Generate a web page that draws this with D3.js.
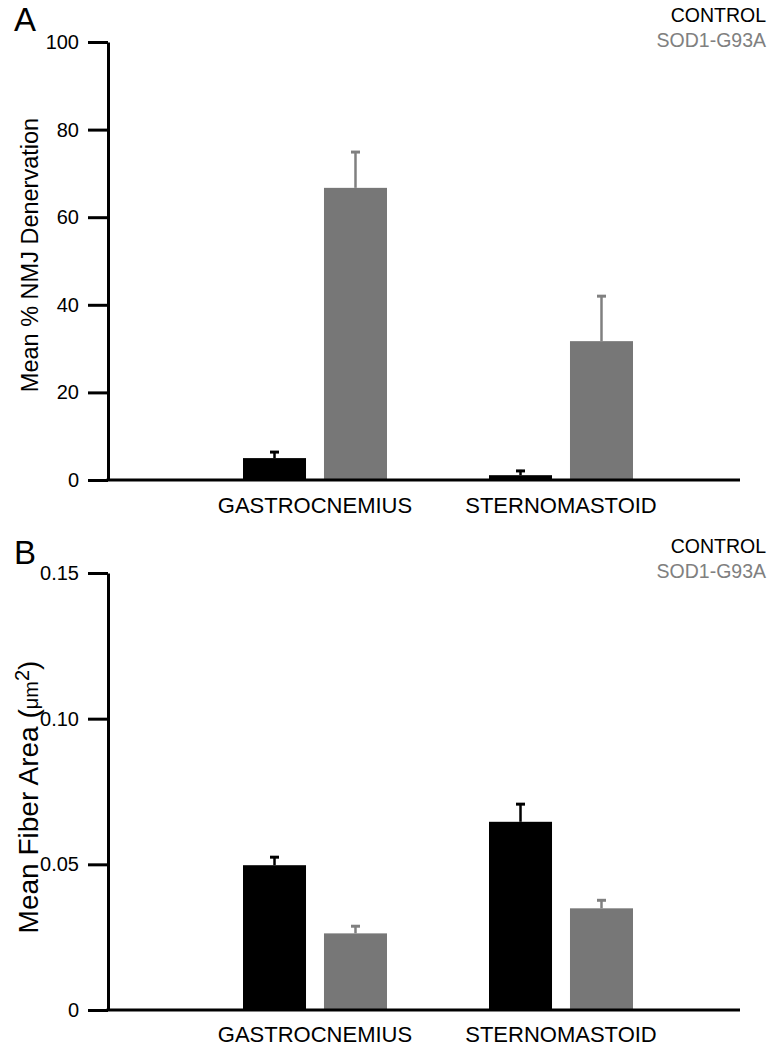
<!DOCTYPE html>
<html><head><meta charset="utf-8">
<script src="https://cdn.jsdelivr.net/npm/d3@7"></script>
<style>body{margin:0;background:#fff} text{font-family:"Liberation Sans",Arial,sans-serif}</style>
</head><body><svg id="c" width="770" height="1050"></svg>
<script>
const categories = ["GASTROCNEMIUS", "STERNOMASTOID"];
const seriesNames = ["CONTROL", "SOD1-G93A"];
// Panel A: Mean % NMJ denervation
const denervControl = [5.0, 1.1];
const denervControlErr = [1.6, 1.2];
const denervSOD = [66.7, 31.7];
const denervSODErr = [8.4, 10.5];
const denervTicks = [0, 20, 40, 60, 80, 100];
// Panel B: Mean fiber area
const areaControl = [0.0497, 0.0646];
const areaControlErr = [0.0031, 0.0064];
const areaSOD = [0.0263, 0.0349];
const areaSODErr = [0.0028, 0.0031];
const areaTicks = [0, 0.05, 0.10, 0.15];
const areaTickLabels = ["0", "0.05", "0.10", "0.15"];

const svg = d3.select("#c");
const barColors = ["#000000", "#777777"];
const errColors = ["#000000", "#808080"];
const legendColors = ["#000000", "#808080"];
const FONT = '"Liberation Sans",Arial,sans-serif';

function panel(cfg) {
  const g = svg.append("g");
  const y = d3.scaleLinear().domain([0, cfg.max]).range([cfg.bottom, cfg.top]);
  const x0 = d3.scaleBand().domain(categories).range([192, 684]).padding(0);
  const x1 = d3.scaleBand().domain(seriesNames).range([-72, 72]).paddingInner(0.222).paddingOuter(0);
  const axisX = 108;

  // y axis
  const ya = g.append("g").attr("transform", `translate(${axisX},0)`)
    .call(d3.axisLeft(y).tickValues(cfg.ticks).tickFormat((d, i) => cfg.tickLabels[i])
      .tickSize(20).tickSizeOuter(0).tickPadding(9));
  ya.select(".domain").attr("stroke", "#000").attr("stroke-width", 3);
  ya.selectAll(".tick line").attr("stroke", "#000").attr("stroke-width", 3);
  ya.selectAll(".tick text").attr("font-size", 20).attr("fill", "#000").style("font-family", FONT);

  // bars
  const data = [];
  categories.forEach((c, i) => {
    data.push({cat: c, s: seriesNames[0], si: 0, v: cfg.ctrl[i], e: cfg.ctrlErr[i]});
    data.push({cat: c, s: seriesNames[1], si: 1, v: cfg.sod[i], e: cfg.sodErr[i]});
  });
  const bx = d => x0(d.cat) + x0.bandwidth() / 2 + x1(d.s);
  g.selectAll("rect.bar").data(data).join("rect").attr("class", "bar")
    .attr("x", bx).attr("width", x1.bandwidth())
    .attr("y", d => y(d.v)).attr("height", d => y(0) - y(d.v))
    .attr("fill", d => barColors[d.si]);
  // error bars
  g.selectAll("line.err").data(data).join("line").attr("class", "err")
    .attr("x1", d => bx(d) + x1.bandwidth() / 2).attr("x2", d => bx(d) + x1.bandwidth() / 2)
    .attr("y1", d => y(d.v)).attr("y2", d => y(d.v + d.e))
    .attr("stroke", d => errColors[d.si]).attr("stroke-width", 2.5);
  g.selectAll("line.cap").data(data).join("line").attr("class", "cap")
    .attr("x1", d => bx(d) + x1.bandwidth() / 2 - 4.5).attr("x2", d => bx(d) + x1.bandwidth() / 2 + 4.5)
    .attr("y1", d => y(d.v + d.e) + 1).attr("y2", d => y(d.v + d.e) + 1)
    .attr("stroke", d => errColors[d.si]).attr("stroke-width", 3);

  // x axis line
  g.append("line").attr("x1", axisX - 1.5).attr("x2", 740).attr("y1", y(0)).attr("y2", y(0))
    .attr("stroke", "#000").attr("stroke-width", 3);
  const xa = g.append("g").attr("transform", `translate(0,${y(0)})`)
    .call(d3.axisBottom(x0).tickSize(0).tickPadding(cfg.xPad));
  xa.select(".domain").remove();
  xa.selectAll(".tick text").attr("font-size", 22).attr("fill", "#000").style("font-family", FONT);

  // y title
  const t = g.append("text").attr("transform", `translate(${cfg.titleX},${cfg.titleY}) rotate(-90)`)
    .attr("text-anchor", "middle").attr("font-size", cfg.titleSize).attr("fill", "#000");
  cfg.title(t);

  // panel letter
  g.append("text").attr("x", 14).attr("y", cfg.letterY).attr("font-size", 33).attr("fill", "#000").text(cfg.letter);

  // legend
  seriesNames.forEach((s, i) => {
    g.append("text").attr("x", 766).attr("y", cfg.legendY + i * 25).attr("text-anchor", "end")
      .attr("font-size", 19.5).attr("fill", legendColors[i]).text(s);
  });
}

panel({
  max: 100, top: 42, bottom: 480, ticks: denervTicks, tickLabels: denervTicks.map(String),
  ctrl: denervControl, ctrlErr: denervControlErr, sod: denervSOD, sodErr: denervSODErr,
  xPad: 17, titleX: 38, titleY: 255, titleSize: 23.5, letter: "A", letterY: 31, legendY: 22,
  title: t => t.text("Mean % NMJ Denervation")
});
panel({
  max: 0.15, top: 573, bottom: 1010, ticks: areaTicks, tickLabels: areaTickLabels,
  ctrl: areaControl, ctrlErr: areaControlErr, sod: areaSOD, sodErr: areaSODErr,
  xPad: 16, titleX: 38, titleY: 797, titleSize: 28, letter: "B", letterY: 564, legendY: 553,
  title: t => {
    t.append("tspan").text("Mean Fiber Area (");
    t.append("tspan").attr("font-size", 20).text("\u03BCm");
    t.append("tspan").attr("font-size", 20).attr("dy", -9).text("2");
    t.append("tspan").attr("dy", 9).text(")");
  }
});
</script></body></html>
